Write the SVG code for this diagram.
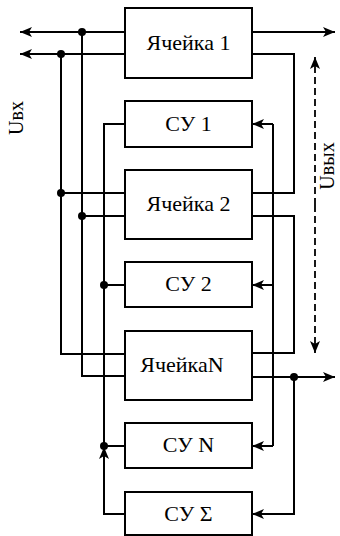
<svg xmlns="http://www.w3.org/2000/svg" width="340" height="536" viewBox="0 0 340 536">
<defs>
<style>
.box{fill:#fff;stroke:#000;stroke-width:2}
.w{fill:none;stroke:#000;stroke-width:2}
.d{fill:none;stroke:#000;stroke-width:1.8;stroke-dasharray:7,4}
.dot{fill:#000}
</style>
<marker id="ar" viewBox="0 0 12 10" refX="12" refY="5" markerWidth="12" markerHeight="10" markerUnits="userSpaceOnUse" orient="auto">
<path d="M0,0 L12,5 L0,10 L3,5 z" fill="#000"/>
</marker>
</defs>
<g id="connectors">
<path class="w" d="M125,32 H20" marker-end="url(#ar)"/>
<path class="w" d="M125,54 H20" marker-end="url(#ar)"/>
<path class="w" d="M82,32 V376 H125"/>
<path class="w" d="M61,54 V354 H125"/>
<path class="w" d="M61,193 H125"/>
<path class="w" d="M82,216 H125"/>
<path class="w" d="M125,124 H104 V446 H125"/>
<path class="w" d="M104,285 H125"/>
<path class="w" d="M125,514 H104 V447" marker-end="url(#ar)"/>
<path class="w" d="M252,32 H335" marker-end="url(#ar)"/>
<path class="w" d="M252,54 H294 V193 H252"/>
<path class="w" d="M252,216 H294 V353 H252"/>
<path class="w" d="M252,377 H335" marker-end="url(#ar)"/>
<path class="w" d="M294,377 V514 H252" marker-end="url(#ar)"/>
<path class="w" d="M273,124 V446"/>
<path class="w" d="M273,124 H252" marker-end="url(#ar)"/>
<path class="w" d="M273,285 H252" marker-end="url(#ar)"/>
<path class="w" d="M273,446 H252" marker-end="url(#ar)"/>
<path class="d" d="M315,205 V57" marker-end="url(#ar)"/>
<path class="d" d="M315,205 V353" marker-end="url(#ar)"/>
<circle class="dot" cx="82" cy="32" r="4"/>
<circle class="dot" cx="61" cy="54" r="4"/>
<circle class="dot" cx="61" cy="193" r="4"/>
<circle class="dot" cx="82" cy="216" r="4"/>
<circle class="dot" cx="104" cy="285" r="4"/>
<circle class="dot" cx="104" cy="446" r="4"/>
<circle class="dot" cx="294" cy="377" r="4"/>
</g>
<g font-family="'Liberation Serif', 'Times New Roman', serif" font-size="22" text-anchor="middle" fill="#000">
<g id="cell1"><rect class="box" x="125" y="8" width="127" height="70"/><text x="188.5" y="50">Ячейка 1</text></g>
<g id="su1"><rect class="box" x="125" y="101" width="127" height="46"/><text x="188.5" y="131">СУ 1</text></g>
<g id="cell2"><rect class="box" x="125" y="170" width="127" height="69"/><text x="188.5" y="211">Ячейка 2</text></g>
<g id="su2"><rect class="box" x="125" y="262" width="127" height="45"/><text x="188.5" y="291">СУ 2</text></g>
<g id="cellN"><rect class="box" x="125" y="331" width="127" height="69"/><text x="182" y="372">ЯчейкаN</text></g>
<g id="suN"><rect class="box" x="125" y="423" width="127" height="45"/><text x="188.5" y="452">СУ N</text></g>
<g id="suSum"><rect class="box" x="125" y="492" width="127" height="43"/><text x="188.5" y="521">СУ Σ</text></g>
<g id="labels" font-size="20">
<text transform="translate(23,118) rotate(-90)">Uвх</text>
<text transform="translate(334,166) rotate(-90)">Uвых</text>
</g>
</g>
</svg>
